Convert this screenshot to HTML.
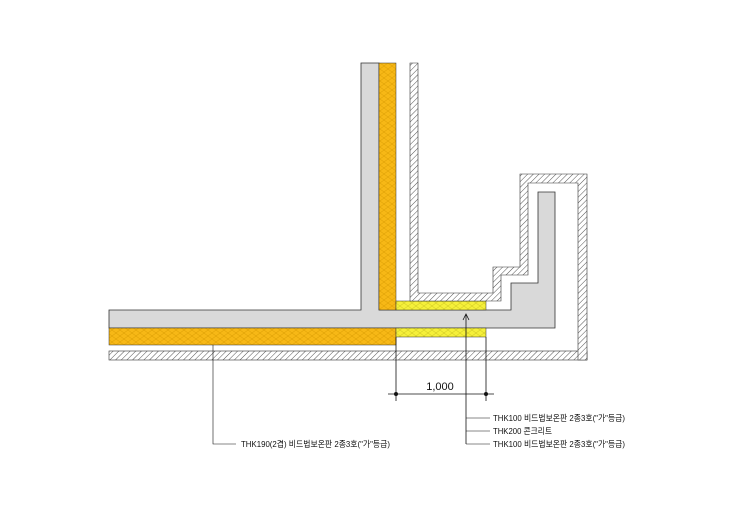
<!DOCTYPE html>
<html><head><meta charset="utf-8"><style>
html,body{margin:0;padding:0;background:#fff;}
svg{display:block;}
text{font-family:"Liberation Sans","Noto Sans CJK KR",sans-serif;font-size:8.5px;fill:#111;}
</style></head><body>
<svg width="750" height="530" viewBox="0 0 750 530" xmlns="http://www.w3.org/2000/svg">
<defs>
<pattern id="h" width="4" height="4" patternUnits="userSpaceOnUse" patternTransform="rotate(45)">
<rect width="4" height="4" fill="#fff"/><line x1="0" y1="0" x2="0" y2="4" stroke="#555" stroke-width="1"/>
</pattern>
<pattern id="o" width="8" height="6" patternUnits="userSpaceOnUse">
<rect width="8" height="6" fill="#f7b816"/><path d="M0 0L4 3L8 0M0 6L4 3L8 6" stroke="#d99a00" stroke-width="0.5" fill="none"/>
</pattern>
<pattern id="y" width="8" height="6" patternUnits="userSpaceOnUse">
<rect width="8" height="6" fill="#f5f03a"/><path d="M0 0L4 3L8 0M0 6L4 3L8 6" stroke="#c9c020" stroke-width="0.5" fill="none"/>
</pattern>
</defs>
<path d="M361 63H379V310H511V283H538V192H555V328H109V310H361Z" fill="#d9d9d9" stroke="#333" stroke-width="0.8"/>
<rect x="379" y="63" width="17" height="247" fill="url(#o)" stroke="#333" stroke-width="0.5"/>
<rect x="109" y="328" width="287" height="17" fill="url(#o)" stroke="#333" stroke-width="0.5"/>
<rect x="396" y="301" width="90" height="9" fill="url(#y)" stroke="#333" stroke-width="0.5"/>
<rect x="396" y="328" width="90" height="9" fill="url(#y)" stroke="#333" stroke-width="0.5"/>
<rect x="109" y="351" width="478" height="9" fill="url(#h)" stroke="#333" stroke-width="0.6"/>
<path d="M520 174H587V360H578V183H528V275H501V301H410V63H418V293H493V267H520Z" fill="url(#h)" stroke="#333" stroke-width="0.6"/>
<g stroke="#111" stroke-width="0.8" fill="none">
<line x1="396" y1="337" x2="396" y2="401"/>
<line x1="486" y1="337" x2="486" y2="401"/>
<line x1="388" y1="394" x2="494" y2="394"/>
<line x1="466" y1="314" x2="466" y2="444"/>
<path d="M463 320L466 314L469 320"/>
<line x1="466" y1="418" x2="490" y2="418" stroke-width="0.5"/>
<line x1="466" y1="431" x2="490" y2="431" stroke-width="0.5"/>
<line x1="466" y1="444" x2="490" y2="444" stroke-width="0.5"/>
<polyline points="213,345 213,444 236,444" stroke-width="0.6"/>
</g>
<circle cx="396" cy="394" r="2" fill="#111"/>
<circle cx="486" cy="394" r="2" fill="#111"/>
<text x="440" y="390" text-anchor="middle" style="font-size:11px">1,000</text>
<text x="493" y="421" textLength="132" lengthAdjust="spacingAndGlyphs">THK100 비드법보온판 2종3호("가"등급)</text>
<text x="493" y="434" textLength="59" lengthAdjust="spacingAndGlyphs">THK200 콘크리트</text>
<text x="493" y="447" textLength="132" lengthAdjust="spacingAndGlyphs">THK100 비드법보온판 2종3호("가"등급)</text>
<text x="241" y="447" textLength="149" lengthAdjust="spacingAndGlyphs">THK190(2겹) 비드법보온판 2종3호("가"등급)</text>
</svg>
</body></html>
